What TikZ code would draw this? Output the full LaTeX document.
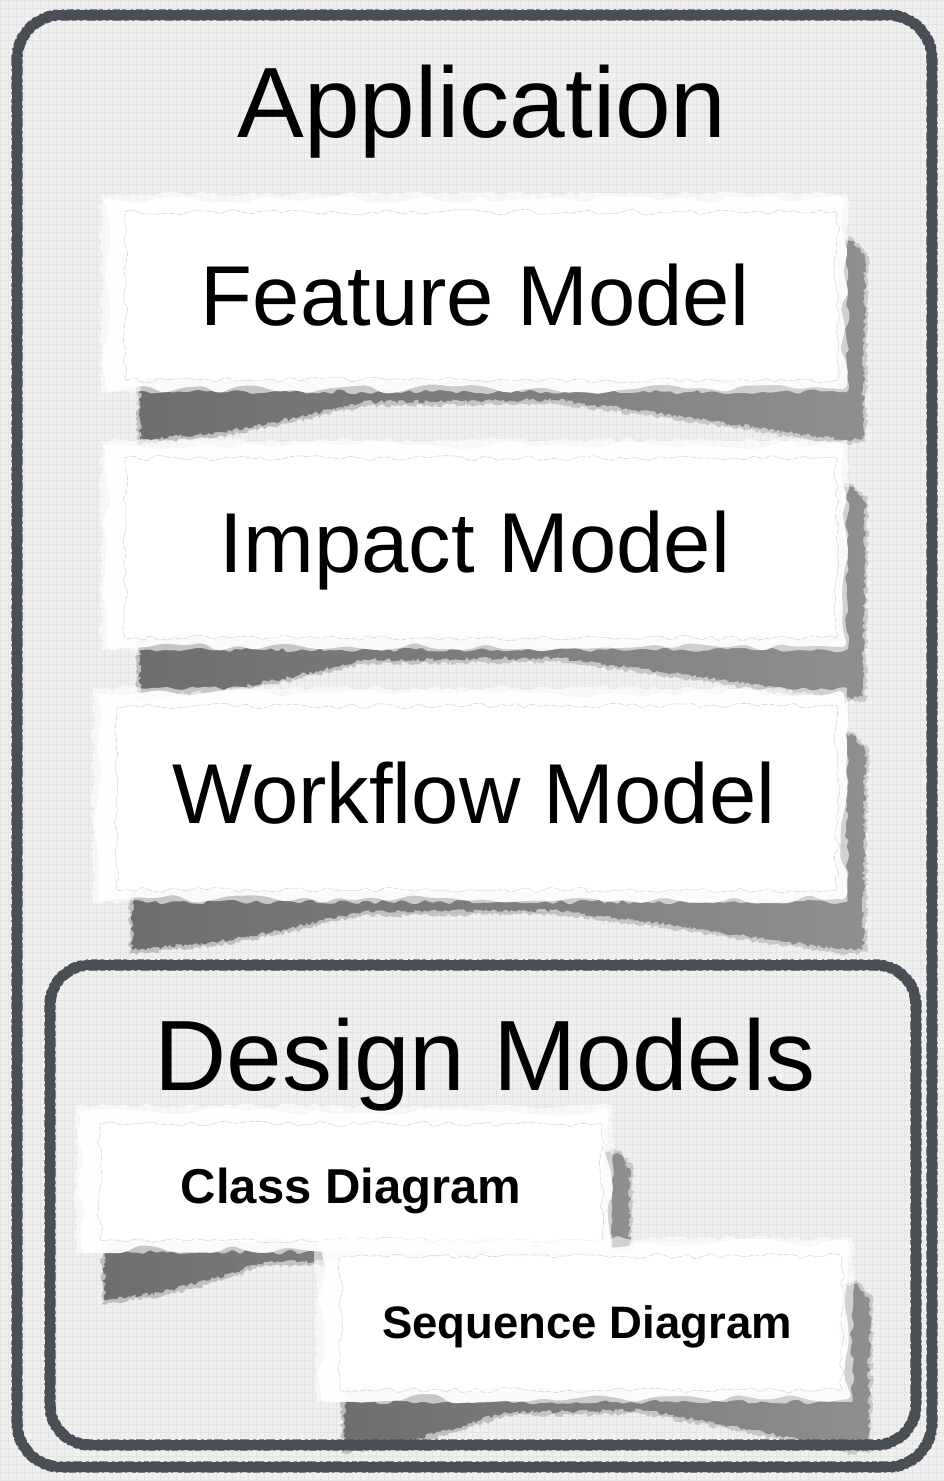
\documentclass[tikz,border=0pt]{standalone}
\usepackage{fontspec}
\setmainfont{Liberation Sans}
\usetikzlibrary{decorations.pathmorphing}
\definecolor{bg}{HTML}{EFEFEF}
\definecolor{gridc}{HTML}{E4E4E4}
\definecolor{chalk}{HTML}{4A4F56}
\definecolor{shadowL}{HTML}{686868}
\definecolor{shadowM}{HTML}{4E4E4E}
\definecolor{shadowR}{HTML}{8A8A8A}
\tikzset{
  tornwave/.style={decorate, decoration={random steps, segment length=18pt, amplitude=5pt}, rounded corners=6pt},
  tornouter/.style={decorate, decoration={random steps, segment length=6pt, amplitude=2.5pt}, rounded corners=1.5pt},
  tornedge/.style={decorate, decoration={random steps, segment length=8pt, amplitude=3pt}, rounded corners=1.5pt},
  shadowedge/.style={decorate, decoration={random steps, segment length=2.5pt, amplitude=2pt}},
  chalkring/.style={draw=chalk, line width=3pt},
  bigtitle/.style={font=\fontsize{100}{110}\selectfont, anchor=base, inner sep=0pt},
  modeltext/.style={font=\fontsize{85}{95}\selectfont, anchor=base, inner sep=0pt},
  classtext/.style={font=\bfseries\fontsize{49}{56}\selectfont, anchor=base, inner sep=0pt},
  seqtext/.style={font=\bfseries\fontsize{45.5}{54}\selectfont, anchor=base, inner sep=0pt},
}
% seed, x1, y1, x2, y2
\newcommand\tornpaper[5]{%
  \pgfmathsetseed{#1}%
  \pgfmathsetmacro\pw{#4-#2}%
  \shade[shadowedge, left color=shadowL, middle color=shadowM, right color=shadowR, opacity=0.35]
    ({#2+0.05*\pw-3},{#5-10}) -- ({#2+0.05*\pw-3},{#5+54}) -- ({#2+0.16*\pw},{#5+46})
    -- ({#2+0.26*\pw},{#5+32}) -- ({#2+0.35*\pw},{#5+16}) -- ({#2+0.61*\pw},{#5+14})
    -- ({#2+0.78*\pw},{#5+30}) -- ({#2+0.92*\pw},{#5+46}) -- ({#4+2},{#5+54})
    -- ({#4+21},{#5+52}) -- ({#4+23},{#3+57}) -- ({#4+8},{#3+42}) -- ({#4-10},{#3+42}) -- cycle;
  \shade[shadowedge, left color=shadowL, middle color=shadowM, right color=shadowR, opacity=0.92]
    ({#2+0.05*\pw},{#5-10}) -- ({#2+0.05*\pw},{#5+50}) -- ({#2+0.16*\pw},{#5+42})
    -- ({#2+0.26*\pw},{#5+28}) -- ({#2+0.35*\pw},{#5+12}) -- ({#2+0.61*\pw},{#5+10})
    -- ({#2+0.78*\pw},{#5+26}) -- ({#2+0.92*\pw},{#5+42}) -- ({#4+2},{#5+50})
    -- ({#4+18},{#5+48}) -- ({#4+20},{#3+60}) -- ({#4+8},{#3+45}) -- ({#4-10},{#3+45}) -- cycle;
  \fill[white, fill opacity=0.6, tornouter] ({#2-2},{#3-2}) rectangle ({#4+2},{#5+2});
  \fill[white, fill opacity=0.92, tornwave] ({#2+3},{#3+3}) rectangle ({#4-1},{#5-1});
  \fill[white, tornedge] ({#2+22},{#3+16}) rectangle ({#4-8},{#5-10});
  \draw[black!16, line width=0.6pt, dash pattern=on 6pt off 1.5pt, tornedge] ({#2+22},{#3+16}) rectangle ({#4-8},{#5-10});
}
% x1, y1, x2, y2, radius
\newcommand\chalkframe[5]{%
  \foreach \d in {-3.5,-1.5,0,1.5,3.5}{%
    \draw[chalkring, rounded corners={#5-\d}] ({#1+\d},{#2+\d}) rectangle ({#3-\d},{#4-\d});
  }
  \draw[chalk, line width=1.4pt, rounded corners=#5+5, dash pattern=on 7pt off 3pt on 2pt off 5pt on 4pt off 2pt]
    ({#1-5},{#2-5}) rectangle ({#3+5},{#4+5});
  \draw[chalk, line width=1.4pt, rounded corners=#5-5, dash pattern=on 5pt off 2pt on 9pt off 4pt on 3pt off 3pt]
    ({#1+5},{#2+5}) rectangle ({#3-5},{#4-5});
}
\begin{document}
\begin{tikzpicture}[x=1pt,y=-1pt]
\useasboundingbox (0,0) rectangle (944,1481);
\fill[bg] (0,0) rectangle (944,1481);
\draw[gridc, line width=0.5pt, step=8pt] (0,0) grid (944,1481);

% torn papers
\tornpaper{11}{103}{196}{845}{390}
\tornpaper{23}{103}{442}{845}{648}
\tornpaper{37}{95}{690}{845}{900}
\tornpaper{41}{78}{1108}{610}{1250}
\tornpaper{53}{318}{1240}{850}{1400}

% frames
\chalkframe{17}{15}{932}{1467}{44}
\chalkframe{50}{965}{916}{1445}{40}

% texts
\node[bigtitle] (app) at (482,137) {Application};
\node[modeltext] (feat) at (475,325) {Feature Model};
\node[modeltext] (impact) at (475,572) {Impact Model};
\node[modeltext] (workflow) at (474,823) {Workflow Model};
\node[bigtitle] (design) at (485,1090) {Design Models};
\node[classtext] (class) at (351,1203) {Class Diagram};
\node[seqtext] (seq) at (587,1338) {Sequence Diagram};
\end{tikzpicture}
\end{document}
